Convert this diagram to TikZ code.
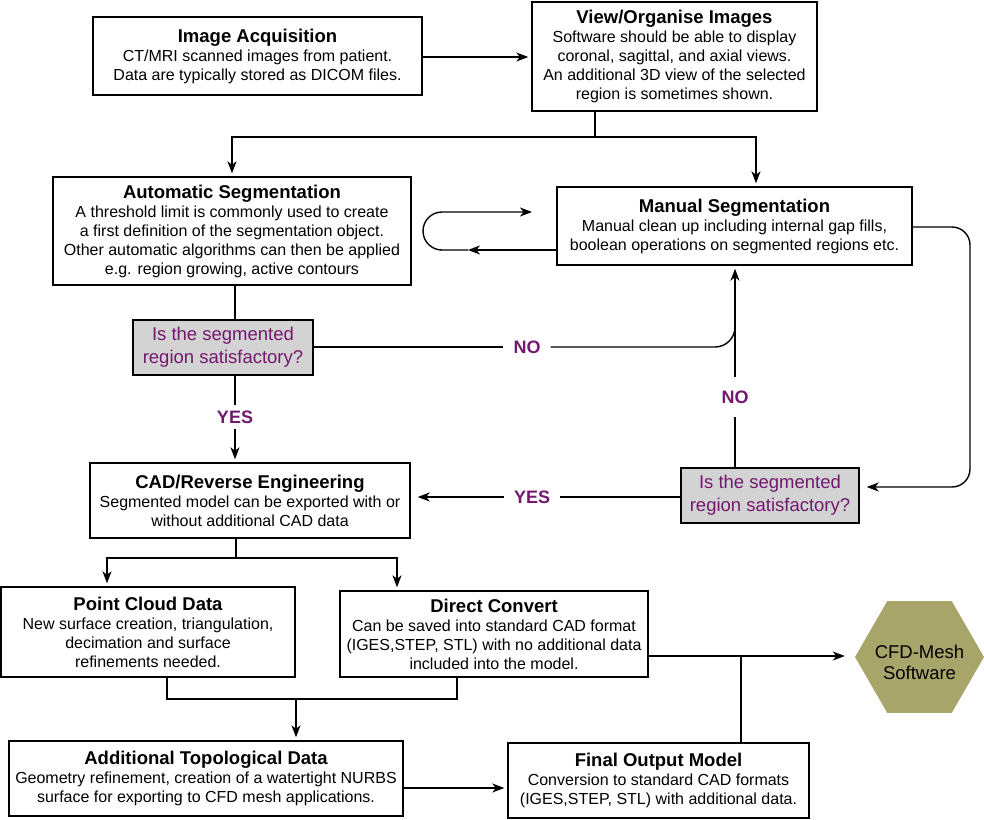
\documentclass[tikz,border=0pt]{standalone}
\usepackage{fontspec}
\setmainfont{Liberation Sans}
\usetikzlibrary{arrows.meta,shapes.geometric,calc}
\definecolor{qpurple}{RGB}{115,24,110}
\definecolor{qgray}{RGB}{211,211,211}
\definecolor{qolive}{RGB}{168,165,106}
\newcommand{\ttl}[1]{{\fontsize{18.5}{21}\selectfont\bfseries #1}}
\begin{document}
\begin{tikzpicture}[x=1pt,y=-1pt,
 box/.style={draw, line width=1.4pt, rectangle, inner sep=0pt, align=center, font=\fontsize{16}{19}\selectfont},
 dbox/.style={draw, line width=1.4pt, fill=qgray, inner sep=0pt, align=center, text=qpurple, font=\fontsize{18.5}{23}\selectfont},
 lbl/.style={text=qpurple, font=\fontsize{18}{20}\selectfont\bfseries, inner xsep=10pt, inner ysep=5pt},
 conn/.style={line width=1.4pt},
 arr/.style={conn, -{Stealth[length=12pt,width=9pt,inset=3.5pt]}, shorten >=3pt},
]
\useasboundingbox (0,0) rectangle (984,819);

% boxes
\node[box, minimum width=329pt, minimum height=78pt] (ia) at (257.5,56)
 {\ttl{Image Acquisition}\\CT/MRI scanned images from patient.\\Data are typically stored as DICOM files.};
\node[box, minimum width=285pt, minimum height=109pt] (vo) at (674.5,56.5)
 {\ttl{View/Organise Images}\\Software should be able to display\\coronal, sagittal, and axial views.\\An additional 3D view of the selected\\region is sometimes shown.};
\node[box, minimum width=358pt, minimum height=108pt] (auto) at (232,231)
 {\ttl{Automatic Segmentation}\\A threshold limit is commonly used to create\\a first definition of the segmentation object.\\Other automatic algorithms can then be applied\\e.g. region growing, active contours};
\node[box, minimum width=355pt, minimum height=78pt] (man) at (734.5,226)
 {\ttl{Manual Segmentation}\\Manual clean up including internal gap fills,\\boolean operations on segmented regions etc.};
\node[dbox, minimum width=180pt, minimum height=55pt] (d1) at (223,347.5)
 {Is the segmented\\region satisfactory?};
\node[dbox, minimum width=178pt, minimum height=55pt] (d2) at (770,495.5)
 {Is the segmented\\region satisfactory?};
\node[box, minimum width=320pt, minimum height=75pt] (cad) at (250,500.5)
 {\ttl{CAD/Reverse Engineering}\\Segmented model can be exported with or\\without additional CAD data};
\node[box, minimum width=294pt, minimum height=90pt] (pcd) at (148,632)
 {\ttl{Point Cloud Data}\\New surface creation, triangulation,\\decimation and surface\\refinements needed.};
\node[box, minimum width=308pt, minimum height=86pt] (dc) at (494,634)
 {\ttl{Direct Convert}\\Can be saved into standard CAD format\\(IGES,STEP, STL) with no additional data\\included into the model.};
\node[box, minimum width=394pt, minimum height=75pt] (atd) at (206,778.5)
 {\ttl{Additional Topological Data}\\Geometry refinement, creation of a watertight NURBS\\surface for exporting to CFD mesh applications.};
\node[box, minimum width=301pt, minimum height=75pt] (fom) at (658.5,780.5)
 {\ttl{Final Output Model}\\Conversion to standard CAD formats\\(IGES,STEP, STL) with additional data.};
\node[regular polygon, regular polygon sides=6, minimum size=129pt, inner sep=0pt, fill=qolive] (hex) at (919.5,657) {};
\node[align=center, font=\fontsize{18.5}{21}\selectfont, inner sep=0pt] (hext) at (919.5,662) {CFD-Mesh\\Software};

% labels
\node[lbl] (no1) at (527,347) {NO};
\node[lbl] (yes1) at (235,417) {YES};
\node[lbl, inner ysep=13pt] (no2) at (735,397) {NO};
\node[lbl] (yes2) at (532,497) {YES};

% helper coordinates
\coordinate (y57) at (0,57);
\coordinate (j1) at (595,137);
\coordinate (m1) at (756,137);
\coordinate (lpA) at (423,250);
\coordinate (lpB) at (423,212);
\coordinate (lpC) at (532,212);
\coordinate (lpM) at (468,250);
\coordinate (v1) at (235,0);
\coordinate (v2) at (735,0);
\coordinate (v2t) at (735,300);
\coordinate (r1) at (970,227);
\coordinate (r2) at (970,487);
\coordinate (y497) at (0,497);
\coordinate (s1) at (236,558);
\coordinate (sL) at (107,558);
\coordinate (sR) at (397,558);
\coordinate (mL) at (167,699);
\coordinate (mR) at (457,699);
\coordinate (mC) at (296,699);
\coordinate (y788) at (0,788);
\coordinate (y656) at (0,656);
\coordinate (f1) at (741,656);

% connectors
\draw[arr] (ia.east |- y57) -- (vo.west |- y57);
\draw[conn] (vo.south -| j1) -- (j1);
\draw[arr] (j1) -| (auto.north);
\draw[arr] (j1) -- (m1) -- (man.north -| m1);

\draw[arr, shorten >=0pt] (man.west |- lpA) -- (lpM);
\draw[arr, shorten >=0pt, rounded corners=19pt] (lpM) -- (lpA) -- (lpB) -- (lpC);

\draw[conn] (auto.south -| v1) -- (d1.north -| v1);
\draw[conn] (d1.south -| v1) -- (yes1.north);
\draw[arr] (yes1.south) -- (cad.north -| v1);

\draw[conn] (d1.east |- no1) -- (no1.west);
\draw[conn, rounded corners=20pt] (no1.east) -- (no1 -| v2) -- (v2t);
\draw[conn] (d2.north -| v2) -- (no2.south);
\draw[arr] (no2.north) -- (man.south -| v2);

\draw[arr, shorten >=7pt, rounded corners=18pt] (man.east |- r1) -- (r1) -- (r2) -- (d2.east |- r2);

\draw[conn] (d2.west |- y497) -- (yes2.east);
\draw[arr, shorten >=7pt] (yes2.west) -- (cad.east |- y497);

\draw[conn] (cad.south -| s1) -- (s1);
\draw[arr] (s1) -- (sL) -- (pcd.north -| sL);
\draw[arr] (s1) -- (sR) -- (dc.north -| sR);

\draw[conn] (pcd.south -| mL) -- (mL) -- (mR) -- (dc.south -| mR);
\draw[arr] (mC) -- (atd.north -| mC);

\draw[arr] (atd.east |- y788) -- (fom.west |- y788);

\draw[arr, shorten >=10pt] (dc.east |- y656) -- (hex.west |- y656);
\draw[conn] (fom.north -| f1) -- (f1);
\end{tikzpicture}
\end{document}
